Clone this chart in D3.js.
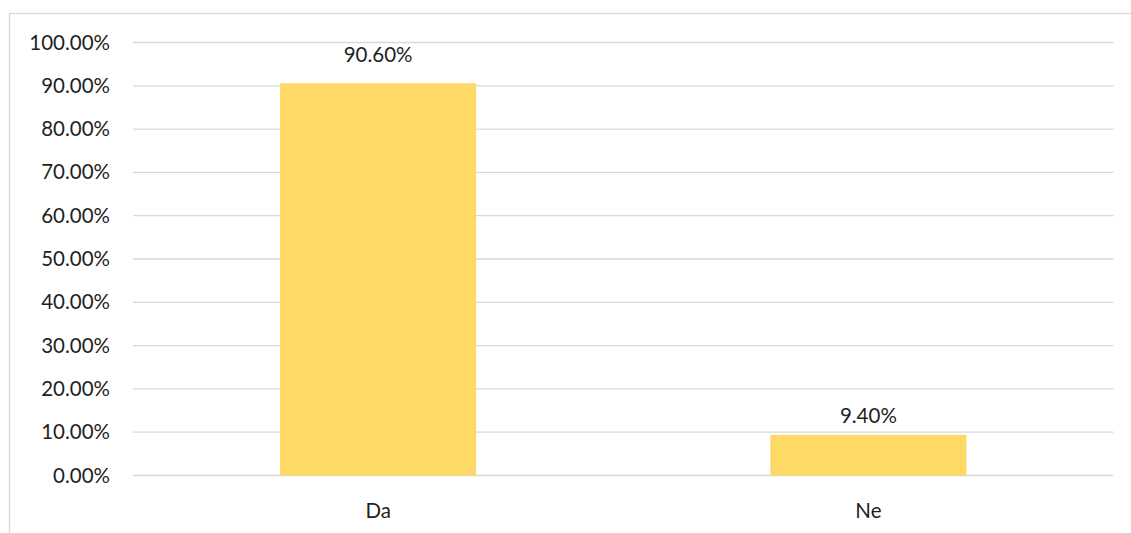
<!DOCTYPE html>
<html>
<head>
<meta charset="utf-8">
<script src="https://cdn.jsdelivr.net/npm/d3@7"></script>
<style>
  body { margin: 0; background: #fff; }
  text { font-family: Lato, "Open Sans", sans-serif; fill: #1f1f1f; }
</style>
</head>
<body>
<div id="chart"></div>
<script>
// data
const categories = ["Da", "Ne"];
const values = [90.6, 9.4];
const valueLabels = ["90.60%", "9.40%"];
const yTicks = [0, 10, 20, 30, 40, 50, 60, 70, 80, 90, 100];
const labelGap = [21, 12];

const svgWidth = 1131;
const svgHeight = 533;

const margin = { top: 42.5, right: 17.5, bottom: 57.5, left: 133 };
const chartWidth = svgWidth - margin.left - margin.right;
const chartHeight = svgHeight - margin.top - margin.bottom;

const svg = d3.select("#chart")
  .append("svg")
  .attr("width", svgWidth)
  .attr("height", svgHeight);

// outer chart border
svg.append("rect")
  .attr("x", 9.5)
  .attr("y", 13.5)
  .attr("width", 1130)
  .attr("height", 540)
  .attr("fill", "none")
  .attr("stroke", "#d9d9d9")
  .attr("stroke-width", 1.3);

const chartGroup = svg.append("g")
  .attr("transform", `translate(${margin.left},${margin.top})`);

const xScale = d3.scaleBand()
  .domain(categories)
  .range([0, chartWidth])
  .paddingInner(0.6)
  .paddingOuter(0.3);

const yScale = d3.scaleLinear()
  .domain([0, 100])
  .range([chartHeight, 0]);

// gridlines
chartGroup.append("g")
  .selectAll("line")
  .data(yTicks)
  .enter()
  .append("line")
  .attr("x1", 0)
  .attr("x2", chartWidth)
  .attr("y1", d => yScale(d))
  .attr("y2", d => yScale(d))
  .attr("stroke", "#d9d9d9")
  .attr("stroke-width", 1.3);

// y axis labels
const leftAxis = d3.axisLeft(yScale)
  .tickValues(yTicks)
  .tickFormat(d => d.toFixed(2) + "%")
  .tickSize(0)
  .tickPadding(23);

const yAxis = chartGroup.append("g").call(leftAxis);
yAxis.select(".domain").remove();
yAxis.selectAll("text")
  .attr("font-size", "20.5px")
  .attr("font-family", "Lato, sans-serif")
  .attr("fill", "#1f1f1f");

// bars
chartGroup.append("g")
  .selectAll("rect")
  .data(values)
  .enter()
  .append("rect")
  .attr("x", (d, i) => xScale(categories[i]))
  .attr("y", d => yScale(d))
  .attr("width", xScale.bandwidth())
  .attr("height", d => chartHeight - yScale(d))
  .attr("fill", "#ffd966");

// value labels
chartGroup.append("g")
  .selectAll("text")
  .data(values)
  .enter()
  .append("text")
  .text((d, i) => valueLabels[i])
  .attr("x", (d, i) => xScale(categories[i]) + xScale.bandwidth() / 2)
  .attr("y", (d, i) => yScale(d) - labelGap[i])
  .attr("text-anchor", "middle")
  .attr("font-size", "20.5px");

// x axis labels
const bottomAxis = d3.axisBottom(xScale).tickSize(0).tickPadding(28);
const xAxis = chartGroup.append("g")
  .attr("transform", `translate(0, ${chartHeight})`)
  .call(bottomAxis);
xAxis.select(".domain").remove();
xAxis.selectAll("text")
  .attr("font-size", "20.5px")
  .attr("font-family", "Lato, sans-serif")
  .attr("fill", "#1f1f1f");
</script>
</body>
</html>
